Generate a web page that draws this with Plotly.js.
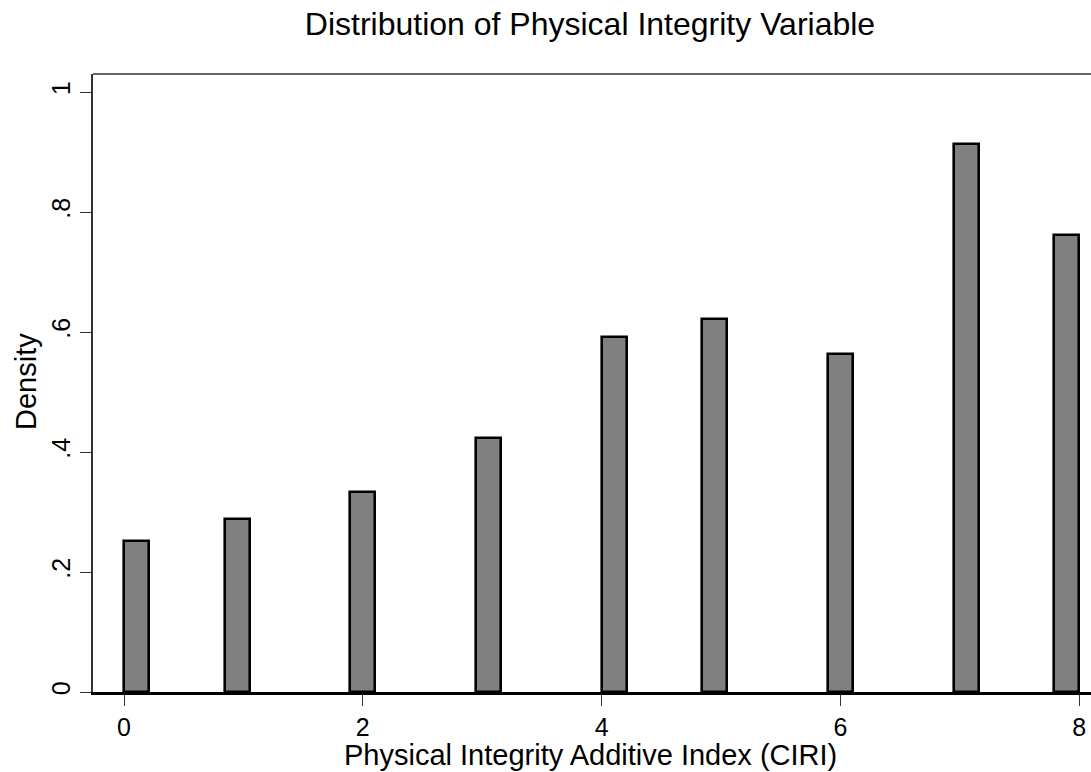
<!DOCTYPE html>
<html>
<head>
<meta charset="utf-8">
<script src="https://cdn.plot.ly/plotly-3.0.1.min.js"></script>
<style>
  html, body { margin: 0; padding: 0; background: #ffffff; overflow: hidden; }
  #chart { width: 1091px; height: 772px; }
</style>
</head>
<body>
<div id="chart"></div>
<script>
// CIRI physical integrity index values (categories) and histogram density
const categories = [0, 1, 2, 3, 4, 5, 6, 7, 8];
const density = [0.252, 0.288, 0.333, 0.423, 0.592, 0.622, 0.563, 0.914, 0.761];

// Histogram binning (Stata-style: 38 bins over [0, 8])
const nBins = 38;
const xMin = 0;
const xMax = 8;

const yTickVals = [0, 0.2, 0.4, 0.6, 0.8, 1];
const yTickText = ["0", ".2", ".4", ".6", ".8", "1"];
const xTickVals = [0, 2, 4, 6, 8];
const xTickText = ["0", "2", "4", "6", "8"];

const chartTitle = "Distribution of Physical Integrity Variable";
const xTitle = "Physical Integrity Additive Index (CIRI)";
const yTitle = "Density";

const binWidth = (xMax - xMin) / nBins;
const binCenters = categories.map(v => {
  const idx = Math.min(Math.floor((v - xMin) / binWidth + 1e-9), nBins - 1);
  return xMin + (idx + 0.5) * binWidth;
});

const FONT = "Arial, 'Liberation Sans', Helvetica, sans-serif";

const trace = {
  type: "bar",
  x: binCenters,
  y: density,
  width: categories.map(() => binWidth),
  marker: { color: "#808080", line: { color: "#000000", width: 2.6 } },
  hoverinfo: "x+y"
};

const layout = {
  width: 1091,
  height: 772,
  paper_bgcolor: "#ffffff",
  plot_bgcolor: "#ffffff",
  margin: { l: 93, r: 0, t: 74, b: 80, pad: 0 },
  showlegend: false,
  font: { family: FONT, color: "#000000" },
  title: {
    text: chartTitle,
    font: { family: FONT, size: 32, color: "#000000" },
    x: 0.498, xref: "paper", xanchor: "center",
    y: 0.969, yref: "container", yanchor: "middle"
  },
  xaxis: {
    range: [-0.2596, 8.099],
    tickvals: xTickVals,
    ticktext: xTickText,
    ticks: "outside",
    ticklen: 11,
    tickwidth: 1.3,
    tickcolor: "#333333",
    tickfont: { family: FONT, size: 25, color: "#000000" },
    showgrid: false,
    zeroline: false,
    showline: true,
    linecolor: "#000000",
    linewidth: 2.5,
    fixedrange: true
  },
  yaxis: {
    range: [0, 1.03],
    tickvals: yTickVals,
    ticktext: yTickText,
    tickangle: -90,
    ticks: "outside",
    ticklen: 11,
    tickwidth: 1.3,
    tickcolor: "#333333",
    tickfont: { family: FONT, size: 25, color: "#000000" },
    showgrid: false,
    zeroline: false,
    showline: true,
    linecolor: "#333333",
    linewidth: 1.5,
    fixedrange: true
  },
  annotations: [
    { text: xTitle, xref: "paper", yref: "paper", x: 0.498, y: 0,
      xanchor: "center", yanchor: "middle", yshift: -63, showarrow: false,
      font: { family: FONT, size: 29, color: "#000000" } },
    { text: yTitle, xref: "paper", yref: "paper", x: 0, y: 0.5016,
      xanchor: "center", yanchor: "middle", xshift: -67, textangle: -90, showarrow: false,
      font: { family: FONT, size: 29, color: "#000000" } }
  ],
  shapes: [
    { type: "line", xref: "paper", yref: "paper", x0: 0, x1: 1, y0: 1, y1: 1,
      line: { color: "#333333", width: 1.5 } }
  ],
  bargap: 0
};

Plotly.newPlot("chart", [trace], layout, { displayModeBar: false });
</script>
</body>
</html>
